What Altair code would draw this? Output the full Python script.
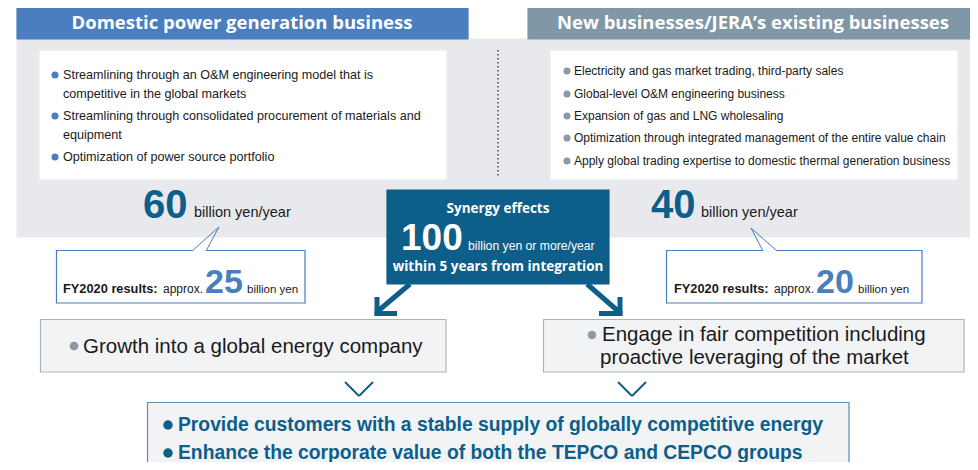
import altair as alt
import pandas as pd

# ---------------- content (text and values) ----------------
headers = ["Domestic power generation business", "New businesses/JERA\u2019s existing businesses"]
left_items = [
    "Streamlining through an O&M engineering model that is",
    "competitive in the global markets",
    "Streamlining through consolidated procurement of materials and",
    "equipment",
    "Optimization of power source portfolio",
]
left_bullets = [True, False, True, False, True]
right_items = [
    "Electricity and gas market trading, third-party sales",
    "Global-level O&M engineering business",
    "Expansion of gas and LNG wholesaling",
    "Optimization through integrated management of the entire value chain",
    "Apply global trading expertise to domestic thermal generation business",
]
target_values = ["60", "40"]          # billion yen/year
target_unit = "billion yen/year"
fy2020_values = ["25", "20"]          # billion yen
fy2020_label = "FY2020 results:"
fy2020_approx = "approx."
fy2020_unit = "billion yen"
synergy_title = "Synergy effects"
synergy_value = "100"
synergy_unit = "billion yen or more/year"
synergy_sub = "within 5 years from integration"
outcomes = ["Growth into a global energy company",
            "Engage in fair competition including",
            "proactive leveraging of the market"]
goals = ["Provide customers with a stable supply of globally competitive energy",
         "Enhance the corporate value of both the TEPCO and CEPCO groups"]

# ---------------- styling ----------------
DARK = "#0d5e89"
MID = "#4a7ebf"
SLATE = "#7f97a7"
PANEL = "#e8e9ed"
LIGHT = "#f2f3f5"
GRAYDOT = "#8a9aa8"
INK = "#1a1a1a"
SANS = "Liberation Sans, Arial, sans-serif"
HEAD = "Open Sans, Lato, sans-serif"

xs = alt.Scale(domain=[8, 970], nice=False, zero=False)
ys = alt.Scale(domain=[8, 462], reverse=True, nice=False, zero=False)
X = lambda f="x": alt.X(f"{f}:Q", scale=xs, axis=None)
Y = lambda f="y": alt.Y(f"{f}:Q", scale=ys, axis=None)

layers = []

# ---------------- boxes ----------------
boxes = pd.DataFrame([
    dict(x=17, x2=990, y=39, y2=237, fill=PANEL, stroke=PANEL),      # gray band
    dict(x=17, x2=468, y=5, y2=39, fill=MID, stroke=MID),            # left header
    dict(x=528, x2=990, y=5, y2=39, fill=SLATE, stroke=SLATE),       # right header
    dict(x=40, x2=446, y=51, y2=179, fill="white", stroke="white"),
    dict(x=551, x2=957, y=51, y2=179, fill="white", stroke="white"),
    dict(x=56.5, x2=305, y=250.5, y2=303, fill="white", stroke=MID),
    dict(x=666.5, x2=922, y=250.5, y2=303, fill="white", stroke=MID),
    dict(x=387, x2=609, y=190, y2=284, fill=DARK, stroke=DARK),
    dict(x=40.5, x2=446, y=319.5, y2=372, fill=LIGHT, stroke="#a9b5bd"),
    dict(x=543.5, x2=964, y=319.5, y2=372, fill=LIGHT, stroke="#a9b5bd"),
    dict(x=147.5, x2=849, y=402.5, y2=500, fill=LIGHT, stroke="#5f8db0"),
])
layers.append(alt.Chart(boxes).mark_rect(strokeWidth=1.2, clip=False).encode(
    x=X(), x2="x2", y=Y(), y2="y2",
    fill=alt.Fill("fill:N", scale=None), stroke=alt.Stroke("stroke:N", scale=None)))

# ---------------- lines ----------------
def rules(rows, color, width, dash=None, cap="butt"):
    kw = dict(color=color, strokeWidth=width, strokeCap=cap, clip=False)
    if dash:
        kw["strokeDash"] = dash
    return alt.Chart(pd.DataFrame(rows, columns=["x", "y", "x2", "y2"])).mark_rule(**kw).encode(
        x=X(), y=Y(), x2="x2", y2="y2")

# callout pointers
layers.append(rules([(192, 251, 206, 251), (763, 251, 777, 251)], "white", 2.5))
layers.append(rules([(219, 227, 192, 251), (219, 227, 206, 251),
                     (751, 228, 763, 251), (751, 228, 777, 251)], MID, 1))
# dotted divider
layers.append(rules([(498, 50, 498, 177)], "#444444", 1.5, dash=[1.5, 2.5]))
# arrows from synergy box
layers.append(rules([(410, 284, 378, 311), (587, 284, 618, 311)], DARK, 5))
layers.append(rules([(377, 297, 377, 315.5), (374.5, 313.5, 397, 313.5),
                     (620, 297, 620, 315.5), (599, 313.5, 622.5, 313.5)], DARK, 5))
# chevrons
layers.append(rules([(345, 382, 359, 396), (359, 396, 373, 382),
                     (618, 382, 632, 396), (632, 396, 646, 382)], DARK, 2))

# ---------------- bullet dots ----------------
def dots(rows, color, size):
    return alt.Chart(pd.DataFrame(rows, columns=["x", "y"])).mark_circle(
        color=color, opacity=1, size=size, clip=False).encode(x=X(), y=Y())

left_ys = [75, 94, 116, 135, 157]
right_ys = [71, 94, 116, 138, 161]
layers.append(dots([(55, yy) for yy, b in zip(left_ys, left_bullets) if b], MID, 50))
layers.append(dots([(567, yy) for yy in right_ys], GRAYDOT, 50))
layers.append(dots([(74, 346), (592, 335)], GRAYDOT, 75))
layers.append(dots([(168, 425), (168, 453)], DARK, 90))

# ---------------- texts ----------------
def texts(rows, font, size, color, weight="normal", align="left", baseline="middle"):
    return alt.Chart(pd.DataFrame(rows, columns=["x", "y", "t"])).mark_text(
        font=font, fontSize=size, fontWeight=weight, color=color, align=align,
        baseline=baseline, clip=False).encode(x=X(), y=Y(), text="t:N")

layers.append(texts([(242, 23, headers[0]), (753, 23, headers[1])], HEAD, 18.5, "white", "bold", "center"))
layers.append(texts([(63, yy, t) for yy, t in zip(left_ys, left_items)], SANS, 12.6, INK))
layers.append(texts([(574, yy, t) for yy, t in zip(right_ys, right_items)], SANS, 12.0, INK))
# big targets
layers.append(texts([(143, 218, target_values[0]), (651, 218, target_values[1])],
                    SANS, 40, DARK, "bold", baseline="alphabetic"))
layers.append(texts([(194, 217, target_unit), (701, 217, target_unit)], SANS, 14.5, INK,
                    baseline="alphabetic"))
# FY2020 callouts
layers.append(texts([(63, 293, fy2020_label), (674, 293, fy2020_label)], SANS, 12.8, INK, "bold",
                    baseline="alphabetic"))
layers.append(texts([(163, 293, fy2020_approx), (774, 293, fy2020_approx)], SANS, 12, INK,
                    baseline="alphabetic"))
layers.append(texts([(205, 293, fy2020_values[0]), (816, 293, fy2020_values[1])], SANS, 34, MID, "bold",
                    baseline="alphabetic"))
layers.append(texts([(247, 293, fy2020_unit), (858, 293, fy2020_unit)], SANS, 11.5, INK,
                    baseline="alphabetic"))
# synergy box
layers.append(texts([(498, 209, synergy_title), (498, 267, synergy_sub)], HEAD, 13.5, "white", "bold", "center"))
layers.append(texts([(401, 250, synergy_value)], SANS, 37, "white", "bold", baseline="alphabetic"))
layers.append(texts([(468, 250, synergy_unit)], SANS, 12.2, "white", baseline="alphabetic"))
# outcomes
layers.append(texts([(83, 347, outcomes[0]), (602, 335, outcomes[1]), (600, 358, outcomes[2])],
                    SANS, 20.5, INK))
# goals
layers.append(texts([(178, 425, goals[0]), (178, 453, goals[1])], SANS, 19.3, DARK, "bold"))

chart = alt.layer(*layers).properties(
    width=962, height=454, padding=0,
    autosize=alt.AutoSizeParams(type="none"),
    background="white",
).configure_view(strokeWidth=0)

chart.save("out.html", embed_options={"renderer": "svg", "actions": False})
